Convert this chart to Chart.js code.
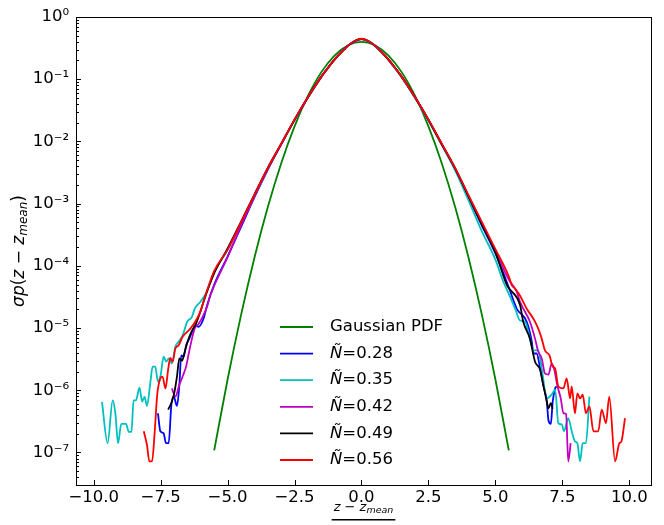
<!DOCTYPE html>
<html>
<head>
<meta charset="utf-8">
<script src="https://cdn.jsdelivr.net/npm/chart.js@4.4.0/dist/chart.umd.min.js"></script>
<style>
  html, body { margin: 0; padding: 0; background: #fff; }
  #chart { display: block; }
</style>
</head>
<body>
<canvas id="chart" width="664" height="525"></canvas>
<script>
// axis ticks
const xTicks = [-10, -7.5, -5, -2.5, 0, 2.5, 5, 7.5, 10];
const yTicks = [1e-7, 1e-6, 1e-5, 1e-4, 1e-3, 1e-2, 1e-1, 1];

// Gaussian PDF
const gaussX = [-5.5, -5, -4.5, -4, -3.5, -3, -2.5, -2, -1.5, -1, -0.5, 0, 0.5, 1, 1.5, 2, 2.5, 3, 3.5, 4, 4.5, 5, 5.5];
const gaussY = [1.08e-7, 1.49e-6, 1.60e-5, 1.34e-4, 8.73e-4, 4.43e-3, 1.75e-2, 5.40e-2, 0.130, 0.242, 0.352, 0.399, 0.352, 0.242, 0.130, 5.40e-2, 1.75e-2, 4.43e-3, 8.73e-4, 1.34e-4, 1.60e-5, 1.49e-6, 1.08e-7];

// N~=0.28 (blue)
const n028X = [-7.6, -7.51, -7.39, -7.3, -7.2, -7.1, -7.01, -6.89, -6.8, -6.73, -6.64, -6.55, -6.43, -6.33, -6.21, -6.08, -5.9, -5.77,
  -5.5, -5, -4.5, -4, -3.5, -3, -2.5, -2, -1.5, -1.25, -1, -0.75, -0.5, -0.25, 0, 0.25, 0.5, 0.75, 1, 1.25, 1.5, 2, 2.5, 3, 3.5, 4, 4.5, 5, 5.5,
  5.8, 6.17, 6.36, 6.42, 6.54, 6.67, 6.79, 6.92, 6.98, 7.07, 7.14, 7.23, 7.29];
const n028Y = [4.27e-7, 2.19e-7, 2.04e-7, 1.41e-7, 1.41e-7, 5.75e-7, 7.9e-7, 5.6e-7, 1.23e-6, 3.63e-6, 3.47e-6, 5.25e-6, 6.76e-6, 8.7e-6, 1.1e-5, 1.05e-5, 1.41e-5, 2.29e-5,
  5.0e-5, 1.41e-4, 4.2e-4, 1.26e-3, 3.5e-3, 8.9e-3, 2.2e-2, 5.1e-2, 0.109, 0.152, 0.208, 0.272, 0.347, 0.41, 0.442, 0.41, 0.347, 0.272, 0.208, 0.152, 0.109, 5.1e-2, 2.2e-2, 8.9e-3, 3.6e-3, 1.26e-3, 4.4e-4, 1.58e-4, 4.5e-5,
  2.04e-5, 1.26e-5, 6.0e-6, 3.9e-6, 3.9e-6, 2.24e-6, 1.2e-6, 6.6e-7, 3.3e-7, 2.88e-7, 6.6e-7, 1.07e-6, 1.15e-6];

// N~=0.35 (cyan)
const n035X = [-9.69, -9.48, -9.29, -9.19, -9.09, -8.97, -8.79, -8.69, -8.59, -8.51, -8.42, -8.29, -8.19, -8.1, -8.01, -7.88, -7.8, -7.7, -7.6, -7.5,
  -7.39, -7.29, -7.2, -7.08, -6.95, -6.83, -6.68, -6.51, -6.33, -6.23, -6.02, -5.83,
  -5.5, -5, -4.5, -4, -3.5, -3, -2.5, -2, -1.5, -1.25, -1, -0.75, -0.5, -0.25, 0, 0.25, 0.5, 0.75, 1, 1.25, 1.5, 2, 2.5, 3, 3.5, 4, 4.5, 5,
  5.3, 5.5, 5.74, 5.92, 6.11, 6.23, 6.42, 6.6, 6.73, 6.92, 7.1, 7.23, 7.35, 7.48, 7.56, 7.72, 7.85, 7.97, 8.06, 8.16, 8.26, 8.38, 8.51];
const n035Y = [6.5e-7, 1.41e-7, 6.9e-7, 4.27e-7, 1.41e-7, 2.88e-7, 2.88e-7, 2.14e-7, 2.14e-7, 6.9e-7, 6.9e-7, 1.1e-6, 6.6e-7, 7.8e-7, 5.6e-7, 1.38e-6, 2.4e-6, 2.4e-6, 1.38e-6, 1.74e-6,
  3.47e-6, 2.88e-6, 3.24e-6, 2.69e-6, 5.0e-6, 6.0e-6, 7.6e-6, 1.26e-5, 1.51e-5, 2.04e-5, 2.63e-5, 3.47e-5,
  7.9e-5, 1.8e-4, 4.8e-4, 1.3e-3, 3.6e-3, 9.0e-3, 2.2e-2, 5.1e-2, 0.109, 0.152, 0.208, 0.271, 0.346, 0.41, 0.441, 0.41, 0.346, 0.27, 0.207, 0.15, 0.108, 5.0e-2, 2.15e-2, 8.7e-3, 3.4e-3, 1.12e-3, 3.55e-4, 1.26e-4,
  5.5e-5, 3.55e-5, 2.04e-5, 1.32e-5, 1.26e-5, 8.7e-6, 4.37e-6, 4.37e-6, 2.24e-6, 7.4e-7, 8.5e-7, 1.02e-6, 2.95e-7, 2.82e-7, 2.19e-7, 3.55e-7, 2.19e-7, 1.51e-7, 1.41e-7, 7.2e-8, 1.41e-7, 1.41e-7, 7.9e-7];

// N~=0.42 (magenta)
const n042X = [-7.08, -6.95, -6.8, -6.68, -6.55, -6.45, -6.33, -6.23, -6.08, -5.93, -5.77, -5.65,
  -5.5, -5, -4.5, -4, -3.5, -3, -2.5, -2, -1.5, -1.25, -1, -0.75, -0.5, -0.25, 0, 0.25, 0.5, 0.75, 1, 1.25, 1.5, 2, 2.5, 3, 3.5, 4, 4.5, 5, 5.5,
  5.8, 5.92, 6.29, 6.48, 6.6, 6.73, 6.85, 6.98, 7.1, 7.19, 7.31, 7.44, 7.54, 7.64, 7.72, 7.81];
const n042Y = [1.07e-6, 7.9e-7, 1.23e-6, 1.66e-6, 2.4e-6, 3.9e-6, 6.76e-6, 9.8e-6, 1.17e-5, 1.51e-5, 2.19e-5, 3.3e-5,
  4.8e-5, 1.38e-4, 4.4e-4, 1.3e-3, 3.6e-3, 9.0e-3, 2.22e-2, 5.12e-2, 0.11, 0.153, 0.209, 0.272, 0.347, 0.411, 0.443, 0.411, 0.347, 0.272, 0.209, 0.153, 0.11, 5.12e-2, 2.22e-2, 9.0e-3, 3.65e-3, 1.32e-3, 4.9e-4, 1.74e-4, 6.0e-5,
  3.8e-5, 2.63e-5, 1.26e-5, 6.76e-6, 4.17e-6, 3.24e-6, 1.86e-6, 1.78e-6, 2.69e-6, 2.24e-6, 1.2e-6, 7.4e-7, 4.27e-7, 4.17e-7, 7.2e-8, 1.41e-7];

// N~=0.49 (black)
const n049X = [-7.22, -7.08, -6.98, -6.89, -6.8, -6.7, -6.6, -6.48, -6.35, -6.21, -6.02, -5.9,
  -5.5, -5, -4.5, -4, -3.5, -3, -2.5, -2, -1.5, -1.25, -1, -0.75, -0.5, -0.25, 0, 0.25, 0.5, 0.75, 1, 1.25, 1.5, 2, 2.5, 3, 3.5, 4, 4.5, 5,
  5.43, 5.92, 6.04, 6.29, 6.48, 6.67, 6.79, 6.92, 6.98, 7.07, 7.14];
const n049Y = [4.9e-7, 6.6e-7, 9.5e-7, 1.66e-6, 3.24e-6, 3.0e-6, 4.17e-6, 6.3e-6, 8.7e-6, 1.1e-5, 1.82e-5, 2.63e-5,
  7.6e-5, 1.9e-4, 5.1e-4, 1.4e-3, 3.75e-3, 9.15e-3, 2.24e-2, 5.13e-2, 0.11, 0.153, 0.209, 0.272, 0.347, 0.412, 0.445, 0.412, 0.347, 0.272, 0.209, 0.153, 0.11, 5.13e-2, 2.23e-2, 9.0e-3, 3.65e-3, 1.3e-3, 4.6e-4, 1.66e-4,
  4.9e-5, 2.34e-5, 1.26e-5, 6.76e-6, 2.88e-6, 2.14e-6, 1.2e-6, 6.6e-7, 5.1e-7, 6.2e-7, 5.0e-7];

// N~=0.56 (red)
const n056X = [-8.13, -8.01, -7.92, -7.82, -7.72, -7.63, -7.51, -7.43, -7.32, -7.22, -7.14, -7.05, -6.95, -6.83, -6.68, -6.51, -6.39, -6.21, -6.02, -5.83,
  -5.5, -5, -4.5, -4, -3.5, -3, -2.5, -2, -1.5, -1.25, -1, -0.75, -0.5, -0.25, 0, 0.25, 0.5, 0.75, 1, 1.25, 1.5, 2, 2.5, 3, 3.5, 4, 4.5, 5, 5.5,
  5.61, 5.74, 5.92, 6.17, 6.42, 6.6, 6.73, 6.85, 7.02, 7.14, 7.23, 7.35, 7.54, 7.66, 7.79, 7.85, 7.97, 8.06, 8.16, 8.26,
  8.38, 8.51, 8.66, 8.84, 8.97, 9.13, 9.25, 9.47, 9.63, 9.7, 9.84];
const n056Y = [2.19e-7, 1.32e-7, 7.2e-8, 7.2e-8, 2.19e-7, 8.3e-7, 1.55e-6, 1.66e-6, 1.07e-6, 2.14e-6, 3.31e-6, 2.88e-6, 4.68e-6, 5.25e-6, 7.24e-6, 8.7e-6, 9.8e-6, 1.26e-5, 1.82e-5, 3.3e-5,
  8.3e-5, 1.82e-4, 5.0e-4, 1.38e-3, 3.72e-3, 9.12e-3, 2.24e-2, 5.13e-2, 0.110, 0.153, 0.209, 0.272, 0.347, 0.412, 0.447, 0.412, 0.347, 0.272, 0.209, 0.153, 0.110, 5.13e-2, 2.24e-2, 9.12e-3, 3.72e-3, 1.35e-3, 5.0e-4, 1.86e-4, 6.8e-5,
  4.9e-5, 4.27e-5, 3.31e-5, 2.04e-5, 1.41e-5, 9.8e-6, 6.76e-6, 4.37e-6, 3.63e-6, 2.4e-6, 2.24e-6, 1.15e-6, 1.07e-6, 1.55e-6, 7.4e-7, 1.15e-6, 4.27e-7, 8.9e-7, 7.4e-7, 8.5e-7,
  4.27e-7, 5.5e-7, 2.19e-7, 2.19e-7, 4.9e-7, 2.95e-7, 7.9e-7, 7.2e-8, 1.41e-7, 1.48e-7, 3.55e-7];

const xMin = -10.66, xMax = 10.81;
const yMin = 3e-8, yMax = 1;
const FONT = 'DejaVu Sans';

function toPoints(xs, ys) {
    if (xs.length !== ys.length) console.warn('length mismatch', xs.length, ys.length);
    return xs.map(function(x, i){ return {x: x, y: ys[i]}; });
}

const series = [
    {label: 'Gaussian PDF', xs: gaussX, ys: gaussY, color: '#008000', order: 5},
    {label: 'Ñ=0.28', xs: n028X, ys: n028Y, color: '#0000ff', order: 4},
    {label: 'Ñ=0.35', xs: n035X, ys: n035Y, color: '#00bfbf', order: 3},
    {label: 'Ñ=0.42', xs: n042X, ys: n042Y, color: '#bf00bf', order: 2},
    {label: 'Ñ=0.49', xs: n049X, ys: n049Y, color: '#000000', order: 1},
    {label: 'Ñ=0.56', xs: n056X, ys: n056Y, color: '#ff0000', order: 0}
];

const SUP = {'-': '⁻', '0': '⁰', '1': '¹', '2': '²', '3': '³', '4': '⁴', '5': '⁵', '6': '⁶', '7': '⁷', '8': '⁸', '9': '⁹'};
function decadeLabel(v){
    const e = String(Math.round(Math.log10(v)));
    return '10' + e.split('').map(function(c){ return SUP[c]; }).join('');
}

// draw a row of text pieces (font, text, baseline shift) centred on 0
function drawPieces(ctx, pieces, cx, cy){
    let w = 0;
    pieces.forEach(function(p){ ctx.font = p.f; p.w = ctx.measureText(p.t).width; w += p.w; });
    let x = cx - w / 2;
    pieces.forEach(function(p){
        ctx.font = p.f;
        ctx.fillText(p.t, x, cy + (p.dy || 0));
        x += p.w;
    });
    return w;
}

const decor = {
    id: 'decor',
    afterDraw(chart){
        const ctx = chart.ctx;
        const area = chart.chartArea;
        const sx = chart.scales.x, sy = chart.scales.y;
        ctx.save();
        ctx.strokeStyle = '#000';
        ctx.fillStyle = '#000';
        ctx.lineWidth = 1;

        // inward ticks
        ctx.beginPath();
        xTicks.forEach(function(v){
            const px = Math.round(sx.getPixelForValue(v)) + 0.5;
            ctx.moveTo(px, area.bottom);
            ctx.lineTo(px, area.bottom - 5);
        });
        for (let e = -8; e <= 0; e++) {
            for (let k = 1; k <= 9; k++) {
                const v = k * Math.pow(10, e);
                if (v < yMin || v > yMax) continue;
                const py = Math.round(sy.getPixelForValue(v)) + 0.5;
                ctx.moveTo(area.left, py);
                ctx.lineTo(area.left + (k === 1 ? 5 : 3), py);
            }
        }
        ctx.stroke();

        // frame
        ctx.strokeRect(Math.round(area.left) + 0.5, Math.round(area.top) + 0.5,
            Math.round(area.width), Math.round(area.height));

        // legend
        const lx = area.left + 204;
        let ly = area.top + 310;
        ctx.textBaseline = 'middle';
        ctx.textAlign = 'left';
        series.forEach(function(s){
            ctx.strokeStyle = s.color;
            ctx.lineWidth = 1.8;
            ctx.beginPath();
            ctx.moveTo(lx, ly);
            ctx.lineTo(lx + 33, ly);
            ctx.stroke();
            let tx = lx + 50;
            let txt = s.label;
            if (txt.charAt(0) === 'Ñ') {
                ctx.font = 'italic 16.5px ' + FONT;
                ctx.fillText('Ñ', tx, ly);
                tx += ctx.measureText('Ñ').width;
                txt = txt.slice(1);
            }
            ctx.font = '16.5px ' + FONT;
            ctx.fillText(txt, tx, ly);
            ly += 26.6;
        });

        // y axis title
        ctx.save();
        ctx.translate(20, (area.top + area.bottom) / 2);
        ctx.rotate(-Math.PI / 2);
        ctx.textBaseline = 'middle';
        const it = 'italic 17px ' + FONT, rm = '17px ' + FONT;
        drawPieces(ctx, [
            {t: 'σp', f: it}, {t: '(', f: rm}, {t: 'z', f: it}, {t: ' − ', f: rm},
            {t: 'z', f: it}, {t: 'mean', f: 'italic 12px ' + FONT, dy: 4}, {t: ')', f: rm}
        ], 0, 0);
        ctx.restore();

        // x axis title (fraction)
        const cx = (area.left + area.right) / 2;
        ctx.textBaseline = 'middle';
        const w = drawPieces(ctx, [
            {t: 'z', f: 'italic 13px ' + FONT}, {t: ' − ', f: '13px ' + FONT},
            {t: 'z', f: 'italic 13px ' + FONT}, {t: 'mean', f: 'italic 9.5px ' + FONT, dy: 3}
        ], cx, 508);
        ctx.fillRect(cx - w / 2 - 2, 519, w + 4, 1.5);
        ctx.font = 'italic 13px ' + FONT;
        ctx.textAlign = 'center';
        ctx.fillText('σ', cx, 530);
        ctx.restore();
    }
};

const chart = new Chart(document.getElementById('chart'), {
    type: 'line',
    data: {
        datasets: series.map(function(s){
            return {
                label: s.label,
                data: toPoints(s.xs, s.ys),
                borderColor: s.color,
                backgroundColor: s.color,
                borderWidth: 1.8,
                pointRadius: 0,
                fill: false,
                cubicInterpolationMode: 'monotone',
                order: s.order
            };
        })
    },
    options: {
        responsive: false,
        animation: false,
        events: [],
        layout: {padding: {top: 17, right: 13, left: 0, bottom: 0}},
        plugins: {legend: {display: false}, tooltip: {enabled: false}},
        scales: {
            x: {
                type: 'linear',
                min: xMin,
                max: xMax,
                grid: {display: false, drawTicks: false},
                border: {display: false},
                afterBuildTicks: function(scale){ scale.ticks = xTicks.map(function(v){ return {value: v}; }); },
                afterFit: function(scale){ scale.height = 40; },
                ticks: {
                    autoSkip: false,
                    maxRotation: 0,
                    padding: 3,
                    color: '#000',
                    font: {family: FONT, size: 16.5},
                    callback: function(v){ return (v < 0 ? '−' : '') + Math.abs(v).toFixed(1); }
                }
            },
            y: {
                type: 'logarithmic',
                min: yMin,
                max: yMax,
                grid: {display: false, drawTicks: false},
                border: {display: false},
                afterBuildTicks: function(scale){ scale.ticks = yTicks.map(function(v){ return {value: v}; }); },
                afterFit: function(scale){ scale.width = 76; },
                ticks: {
                    autoSkip: false,
                    padding: 7,
                    color: '#000',
                    font: {family: FONT, size: 16.5},
                    callback: function(v){ return decadeLabel(v); }
                }
            }
        }
    },
    plugins: [decor]
});
</script>
</body>
</html>
